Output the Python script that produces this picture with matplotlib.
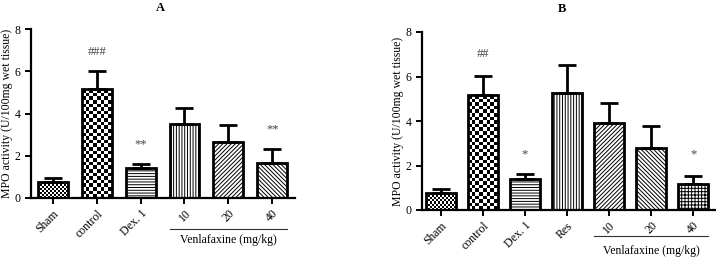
import numpy as np
import matplotlib
matplotlib.use("Agg")
import matplotlib.pyplot as plt

plt.rcParams['font.family'] = ['Liberation Serif', 'DejaVu Serif']
plt.rcParams['hatch.linewidth'] = 0.7

# Panel A data
cats_a = ["Sham", "control", "Dex. 1", "10", "20", "40"]
vals_a = [0.75, 5.15, 1.4, 3.5, 2.65, 1.65]
errs_a = [0.2, 0.87, 0.2, 0.75, 0.8, 0.65]
marks_a = ["", "###", "**", "", "", "**"]
mark_y_a = [0, 6.9, 2.55, 0, 0, 3.25]
pat_a = ["fine", "checker", "------", "||||||", "////////", "\\\\\\\\\\\\\\\\"]

# Panel B data
cats_b = ["Sham", "control", "Dex. 1", "Res", "10", "20", "40"]
vals_b = [0.75, 5.15, 1.4, 5.25, 3.9, 2.8, 1.15]
errs_b = [0.2, 0.87, 0.2, 1.25, 0.9, 0.98, 0.4]
marks_b = ["", "##", "*", "", "", "", "*"]
mark_y_b = [0, 7.0, 2.5, 0, 0, 0, 2.5]
pat_b = ["fine", "checker", "------", "||||||", "////////", "\\\\\\\\\\\\\\\\", "+++++"]

W, H = 716, 259
fig = plt.figure(figsize=(W / 100, H / 100), dpi=100)

def panel(rect, cats, vals, errs, marks, mark_y, pats, xlim, width, title, title_xy,
          group_idx, line_y, text_y):
    ax = fig.add_axes(rect)
    x = np.arange(len(cats))
    ax.set_xlim(*xlim)
    ax.set_ylim(0, 8)
    bars = []
    for i in range(len(cats)):
        p = pats[i]
        hatch = None if p in ("fine", "checker") else p
        b = ax.bar(x[i], vals[i], width=width, facecolor='none', edgecolor='black',
                   linewidth=2.0, hatch=hatch, zorder=3)[0]
        bars.append(b)
    ax.errorbar(x, vals, yerr=[np.zeros(len(vals)), errs], fmt='none', ecolor='black',
                elinewidth=2.0, capsize=6.5, capthick=2.0, zorder=2.5)
    # checker textures clipped to the bars
    fig.canvas.draw()
    for i, b in enumerate(bars):
        p = pats[i]
        if p not in ("fine", "checker"):
            continue
        sq = 2.0 if p == "fine" else 3.6
        x0, w, h = b.get_x(), b.get_width(), b.get_height()
        p0 = ax.transData.transform((x0, 0))
        p1 = ax.transData.transform((x0 + w, h))
        nc = max(1, int(round((p1[0] - p0[0]) / sq)))
        nr = max(1, int(round((p1[1] - p0[1]) / sq)))
        arr = (np.add.outer(np.arange(nr), np.arange(nc)) % 2).astype(float)
        lo = 0.0 if p == "checker" else 0.15
        im = ax.imshow(arr, cmap='gray', vmin=lo, vmax=1, interpolation='nearest',
                       extent=(x0, x0 + w, 0, h), aspect='auto', zorder=2)
        im.set_clip_path(b)
    ax.set_xlim(*xlim)
    ax.set_ylim(0, 8)
    for i, m in enumerate(marks):
        if m:
            ax.text(x[i], mark_y[i], m, ha='center', va='center', fontsize=9, color='#444444')
    ax.spines['top'].set_visible(False)
    ax.spines['right'].set_visible(False)
    ax.spines['left'].set_linewidth(1.6)
    ax.spines['bottom'].set_linewidth(1.6)
    ax.set_yticks([0, 2, 4, 6, 8])
    ax.set_xticks(x)
    ax.set_xticklabels(cats, rotation=45, ha='right', rotation_mode='anchor', fontsize=8.5)
    ax.tick_params(axis='both', width=1.4, length=4, labelsize=8.5, colors='black')
    ax.tick_params(axis='x', pad=3)
    ax.set_ylabel("MPO activity (U/100mg wet tissue)", fontsize=8.5, labelpad=1)
    fig.text(title_xy[0] / W, 1 - title_xy[1] / H, title, ha='center', va='center',
             fontsize=9, fontweight='bold')
    # group bracket line below tick labels
    g0 = ax.transData.transform((group_idx[0] - width / 2, 0))[0]
    g1 = ax.transData.transform((group_idx[1] + width / 2, 0))[0]
    fig.add_artist(plt.Line2D([g0 / W, g1 / W], [1 - line_y / H, 1 - line_y / H],
                              color='#333333', linewidth=0.8))
    fig.text((g0 + g1) / 2 / W, 1 - text_y / H, "Venlafaxine (mg/kg)", ha='center',
             va='center', fontsize=8.5)
    return ax

panel([31 / W, 1 - 198 / H, 264 / W, 169 / H], cats_a, vals_a, errs_a, marks_a, mark_y_a,
      pat_a, (-0.5, 5.52), 0.68, "A", (160, 8), (3, 5), 229, 240)
panel([422 / W, 1 - 210 / H, 293 / W, 178 / H], cats_b, vals_b, errs_b, marks_b, mark_y_b,
      pat_b, (-0.45, 6.52), 0.71, "B", (562, 9), (4, 6), 236, 251)

fig.savefig("out.png", dpi=100)
